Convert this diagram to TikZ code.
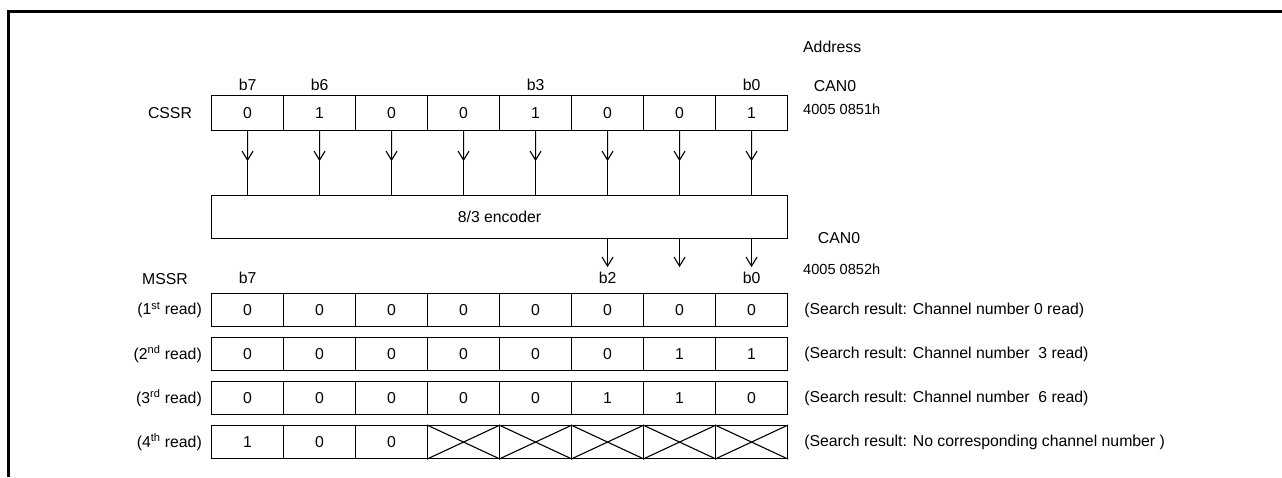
\documentclass[tikz,border=0pt]{standalone}
\usepackage{fontspec}
\setmainfont{Liberation Sans}
\usetikzlibrary{arrows.meta,calc}
\begin{document}
\begin{tikzpicture}[x=1pt,y=-1pt,
  txt/.style={inner sep=0pt,font=\fontsize{15.8}{18}\selectfont},
  small/.style={inner sep=0pt,font=\fontsize{14.6}{17}\selectfont},
  cell/.style={draw,line width=1.1pt,minimum width=72pt,minimum height=35pt,inner sep=0pt,anchor=north west,font=\fontsize{15.8}{18}\selectfont},
  mcell/.style={cell,minimum height=33pt},
  wire/.style={line width=1.1pt},
  barb/.style={-{Straight Barb[length=9pt,width=11pt,line width=1.1pt]}},
  rowlabel/.style={txt,anchor=east},
  result/.style={txt,anchor=west}
]
\useasboundingbox (0,0) rectangle (1282,477);
% frame
\coordinate (fb) at (8,477);
\coordinate (fc) at (8,11.5);
\coordinate (fr) at (1282,11.5);
\draw[line width=3pt,miter limit=10] (fb) -- (fc) -- (fr);

% address column
\node[txt,anchor=west] (addr) at (803,47) {Address};
\node[txt] (can1) at (835,86) {CAN0};
\node[small,anchor=west] (a1) at (803,109) {4005 0851h};
\node[txt] (can2) at (839,238) {CAN0};
\node[small,anchor=west] (a2) at (803,269) {4005 0852h};

% CSSR
\node[txt] (cssr) at (170,113) {CSSR};
\foreach \v [count=\i] in {0,1,0,0,1,0,0,1}
  \node[cell] (c\i) at ({211+72*(\i-1)},95) {\v};
\node[txt] (cb7) at (c1.north |- 0,85) {b7};
\node[txt] (cb6) at (c2.north |- 0,85) {b6};
\node[txt] (cb3) at (c5.north |- 0,85) {b3};
\node[txt] (cb0) at (c8.north |- 0,85) {b0};

% encoder
\node[draw,line width=1.1pt,minimum width=576pt,minimum height=43pt,inner sep=0pt,anchor=north west,font=\fontsize{15.8}{18}\selectfont] (enc) at (211,195) {8/3 encoder};

\foreach \i in {1,...,8}{
  \draw[wire] (c\i.south) -- (c\i.south |- enc.north);
  \draw[wire,barb] (c\i.south) -- ($(c\i.south)!0.47!(c\i.south |- enc.north)$);
}
\foreach \i in {6,7,8}{
  \coordinate (t\i) at ($(c\i.south |- enc.south)+(0,28)$);
  \draw[wire,barb] (c\i.south |- enc.south) -- (t\i);
}

% MSSR
\node[txt] (mssr) at (165,279) {MSSR};
\foreach \r/\y/\vals in {1/293/{0,0,0,0,0,0,0,0},2/337/{0,0,0,0,0,0,1,1},3/381/{0,0,0,0,0,1,1,0},4/425/{1,0,0,,,,,}}{
  \foreach \v [count=\i] in \vals
    \node[mcell] (r\r c\i) at ({211+72*(\i-1)},\y) {\v};
}
\node[txt] (mb7) at (r1c1.north |- 0,278) {b7};
\node[txt] (mb2) at (r1c6.north |- 0,278) {b2};
\node[txt] (mb0) at (r1c8.north |- 0,278) {b0};

\foreach \i in {4,...,8}
  \draw[wire] (r4c\i.north west) -- (r4c\i.south east) (r4c\i.south west) -- (r4c\i.north east);

\node[rowlabel] (l1) at (r1c1.west) [xshift=-9pt] {(1\textsuperscript{st} read)};
\node[rowlabel] (l2) at (r2c1.west) [xshift=-9pt] {(2\textsuperscript{nd} read)};
\node[rowlabel] (l3) at (r3c1.west) [xshift=-9pt] {(3\textsuperscript{rd} read)};
\node[rowlabel] (l4) at (r4c1.west) [xshift=-9pt] {(4\textsuperscript{th} read)};

\node[result] (s1) at (r1c8.east) [xshift=16pt] {(Search result: Channel number 0 read)};
\node[result] (s2) at (r2c8.east) [xshift=16pt] {(Search result: Channel number\ \ 3 read)};
\node[result] (s3) at (r3c8.east) [xshift=16pt] {(Search result: Channel number\ \ 6 read)};
\node[result] (s4) at (r4c8.east) [xshift=16pt] {(Search result: No corresponding channel number )};
\end{tikzpicture}
\end{document}
